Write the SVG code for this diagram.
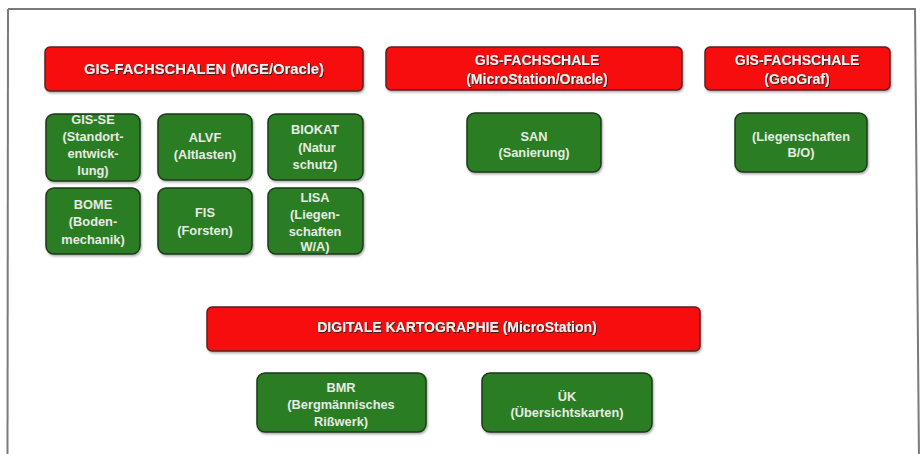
<svg xmlns="http://www.w3.org/2000/svg" width="923" height="454" viewBox="0 0 923 454">
<defs>
<filter id="sh" x="-10%" y="-30%" width="120%" height="160%">
<feDropShadow dx="1" dy="1" stdDeviation="0.6" flood-color="#202020" flood-opacity="0.85"/>
</filter>
<filter id="bs" x="-5%" y="-10%" width="110%" height="120%">
<feDropShadow dx="1" dy="1.5" stdDeviation="0.8" flood-color="#000" flood-opacity="0.35"/>
</filter>
</defs>
<style>
.red{fill:#f70a0a;stroke:#5a2222;stroke-width:1.5;filter:url(#bs)}
.grn{fill:#2c7d22;stroke:#1e3a1c;stroke-width:1.5;filter:url(#bs)}
.rt{font-family:"Liberation Sans",Arial,sans-serif;font-weight:bold;font-size:14px;fill:#f4f4f4;text-anchor:middle;filter:url(#sh)}
.gt{font-family:"Liberation Sans",Arial,sans-serif;font-weight:bold;font-size:12.8px;fill:#e6ebe4;text-anchor:middle}
</style>
<rect x="0" y="0" width="923" height="454" fill="#ffffff"/>
<path d="M8,9 L915,9 L919,460" fill="none" stroke="#7a7a7a" stroke-width="2"/>
<path d="M8,9 L7.5,460" fill="none" stroke="#7a7a7a" stroke-width="2"/>
<g id="connectors"></g>
<g id="n-mge">
<rect class="red" x="45" y="47" width="318" height="44" rx="5"/>
<text class="rt" x="204" y="74" textLength="240" lengthAdjust="spacingAndGlyphs">GIS-FACHSCHALEN (MGE/Oracle)</text>
</g>
<g id="n-ms">
<rect class="red" x="386" y="47" width="296" height="43" rx="5"/>
<text class="rt" x="537" y="65">GIS-FACHSCHALE</text>
<text class="rt" x="537" y="84">(MicroStation/Oracle)</text>
</g>
<g id="n-geograf">
<rect class="red" x="705" y="47" width="185" height="43" rx="5"/>
<text class="rt" x="797" y="65">GIS-FACHSCHALE</text>
<text class="rt" x="797" y="84">(GeoGraf)</text>
</g>
<g id="n-gisse">
<rect class="grn" x="46" y="114" width="94" height="67" rx="8"/>
<text class="gt" x="93" y="124">GIS-SE</text>
<text class="gt" x="93" y="141">(Standort-</text>
<text class="gt" x="93" y="158">entwick-</text>
<text class="gt" x="93" y="175">lung)</text>
</g>
<g id="n-alvf">
<rect class="grn" x="158" y="114" width="94" height="66" rx="8"/>
<text class="gt" x="205" y="142">ALVF</text>
<text class="gt" x="205" y="159">(Altlasten)</text>
</g>
<g id="n-biokat">
<rect class="grn" x="268" y="114" width="95" height="66" rx="8"/>
<text class="gt" x="315" y="134">BIOKAT</text>
<text class="gt" x="317" y="152">(Natur</text>
<text class="gt" x="315" y="169">schutz)</text>
</g>
<g id="n-bome">
<rect class="grn" x="46" y="188" width="94" height="66" rx="8"/>
<text class="gt" x="93" y="209">BOME</text>
<text class="gt" x="93" y="226">(Boden-</text>
<text class="gt" x="93" y="244">mechanik)</text>
</g>
<g id="n-fis">
<rect class="grn" x="158" y="188" width="94" height="66" rx="8"/>
<text class="gt" x="205" y="217">FIS</text>
<text class="gt" x="205" y="235">(Forsten)</text>
</g>
<g id="n-lisa">
<rect class="grn" x="268" y="188" width="95" height="66" rx="8"/>
<text class="gt" x="315" y="202">LISA</text>
<text class="gt" x="315" y="219">(Liegen-</text>
<text class="gt" x="315" y="236">schaften</text>
<text class="gt" x="315" y="251">W/A)</text>
</g>
<g id="n-san">
<rect class="grn" x="467" y="113" width="134" height="59" rx="8"/>
<text class="gt" x="534" y="141">SAN</text>
<text class="gt" x="534" y="157">(Sanierung)</text>
</g>
<g id="n-lieg">
<rect class="grn" x="735" y="113" width="132" height="59" rx="8"/>
<text class="gt" x="801" y="141">(Liegenschaften</text>
<text class="gt" x="801" y="157">B/O)</text>
</g>
<g id="n-dk">
<rect class="red" x="207" y="307" width="493" height="44" rx="5"/>
<text class="rt" x="457" y="332">DIGITALE KARTOGRAPHIE (MicroStation)</text>
</g>
<g id="n-bmr">
<rect class="grn" x="257" y="373" width="169" height="59" rx="8"/>
<text class="gt" x="341" y="392">BMR</text>
<text class="gt" x="341" y="409">(Bergmännisches</text>
<text class="gt" x="341" y="426">Rißwerk)</text>
</g>
<g id="n-uk">
<rect class="grn" x="482" y="373" width="170" height="59" rx="8"/>
<text class="gt" x="567" y="401">ÜK</text>
<text class="gt" x="567" y="417">(Übersichtskarten)</text>
</g>
</svg>
